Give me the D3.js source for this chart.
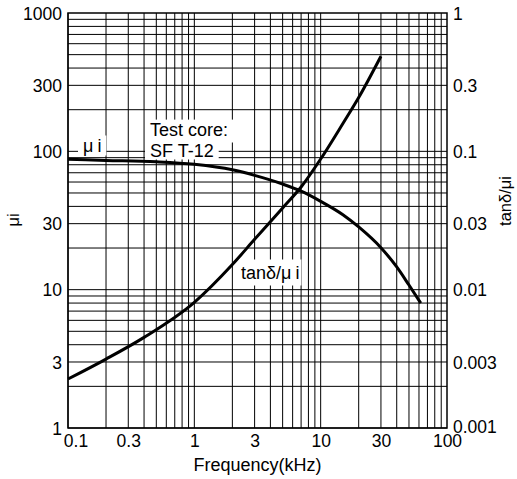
<!DOCTYPE html>
<html><head><meta charset="utf-8">
<script src="https://cdn.jsdelivr.net/npm/d3@7"></script>
<style>body{margin:0;background:#fff}svg{display:block}text{font-family:"Liberation Sans",Arial,Helvetica,sans-serif;fill:#000}</style>
</head><body><svg id="c" width="517" height="479"></svg>
<script>
// ---- data ----
const freqMu = [0.1, 0.2, 0.5, 1, 2, 3, 5, 7, 10, 15, 20, 30, 40, 50, 62];
const muValues = [87.5, 86, 84, 80.5, 73.5, 67, 58, 51.5, 43.5, 34.8, 28.4, 20.1, 14.6, 10.8, 8];
const freqTan = [0.1, 0.2, 0.4, 1, 2, 3, 5, 7, 10, 15, 20, 30];
const tanValues = [0.00226, 0.00315, 0.00452, 0.0081, 0.0152, 0.0231, 0.039, 0.0552, 0.088, 0.159, 0.245, 0.487];
const xTickLabels = ["0.1", "0.3", "1", "3", "10", "30", "100"];
const yLeftTickLabels = ["1", "3", "10", "30", "100", "300", "1000"];
const yRightTickLabels = ["0.001", "0.003", "0.01", "0.03", "0.1", "0.3", "1"];

const L = 68, T = 13, W = 379, H = 415;
const svg = d3.select("#c");
const x = d3.scaleLog().domain([0.1, 100]).range([L, L + W]);
const yL = d3.scaleLog().domain([1, 1000]).range([T + H, T]);
const yR = d3.scaleLog().domain([0.001, 1]).range([T + H, T]);

// grid
const g = svg.append("g");
const xGrid = [], yGrid = [];
for (let d = 0.1; d < 100; d *= 10) for (let k = 1; k <= 9; k++) xGrid.push(+(d * k).toPrecision(3));
for (let d = 1; d < 1000; d *= 10) for (let k = 1; k <= 9; k++) yGrid.push(d * k);
g.selectAll(".vx").data(xGrid).join("line")
  .attr("x1", d => x(d)).attr("x2", d => x(d)).attr("y1", T).attr("y2", T + H)
  .attr("stroke", "#000").attr("stroke-width", 1);
g.selectAll(".hy").data(yGrid).join("line")
  .attr("y1", d => yL(d)).attr("y2", d => yL(d)).attr("x1", L).attr("x2", L + W)
  .attr("stroke", "#000").attr("stroke-width", 1);
svg.append("rect").attr("x", L).attr("y", T).attr("width", W).attr("height", H)
  .attr("fill", "none").attr("stroke", "#000").attr("stroke-width", 1.5);

// axes
const fs = 17.5;
const ff = '"Liberation Sans",Arial,sans-serif';
const xAxis = d3.axisBottom(x).tickValues(xTickLabels.map(Number)).tickSize(0).tickFormat((d, i) => xTickLabels[i]);
const ax = svg.append("g").attr("transform", `translate(0,${T + H})`).call(xAxis);
ax.select(".domain").remove();
ax.selectAll("text").attr("font-size", fs).attr("dy", null).attr("y", 19)
  .attr("font-family", ff).attr("dx", (d, i) => i === 0 ? 7.5 : 0);
const yAxisL = d3.axisLeft(yL).tickValues(yLeftTickLabels.map(Number)).tickSize(0).tickFormat((d, i) => yLeftTickLabels[i]);
const al = svg.append("g").attr("transform", `translate(${L},0)`).call(yAxisL);
al.select(".domain").remove();
al.selectAll("text").attr("font-size", fs).attr("x", -6).attr("dy", "0.36em").attr("font-family", ff);
const yAxisR = d3.axisRight(yR).tickValues(yRightTickLabels.map(Number)).tickSize(0).tickFormat((d, i) => yRightTickLabels[i]);
const ar = svg.append("g").attr("transform", `translate(${L + W},0)`).call(yAxisR);
ar.select(".domain").remove();
ar.selectAll("text").attr("font-size", fs).attr("x", 6)
  .attr("dy", (d, i) => i === 0 ? "0.26em" : "0.36em").attr("font-family", ff);

// axis titles
svg.append("text").attr("x", L + W / 2).attr("y", 471).attr("text-anchor", "middle")
  .attr("font-size", 18).text("Frequency(kHz)");
svg.append("text").attr("transform", `translate(19,220) rotate(-90)`).attr("text-anchor", "middle")
  .attr("font-size", 17).text("μi");
svg.append("text").attr("transform", `translate(511,201) rotate(-90)`).attr("text-anchor", "middle")
  .attr("font-size", 16.5).text("tanδ/μi");

// curves
const lineMu = d3.line().x((d, i) => x(freqMu[i])).y(d => yL(d)).curve(d3.curveMonotoneX);
svg.append("path").attr("d", lineMu(muValues)).attr("fill", "none").attr("stroke", "#000").attr("stroke-width", 3);
const lineTan = d3.line().x((d, i) => x(freqTan[i])).y(d => yR(d)).curve(d3.curveMonotoneX);
svg.append("path").attr("d", lineTan(tanValues)).attr("fill", "none").attr("stroke", "#000").attr("stroke-width", 3);

// labels with white backing
function label(xp, yp, txt, size, pad) {
  const grp = svg.append("g");
  const t = grp.append("text").attr("x", xp).attr("y", yp).attr("font-size", size);
  if (Array.isArray(txt)) txt.forEach(s => t.append("tspan").attr("dx", s[1] || 0).text(s[0]));
  else t.text(txt);
  const b = t.node().getBBox();
  grp.insert("rect", "text").attr("x", b.x - pad[0]).attr("y", b.y - pad[1])
    .attr("width", b.width + pad[0] * 2).attr("height", b.height + pad[1] * 2).attr("fill", "#fff");
}
label(83, 151.5, [["μ"], ["i", 4]], 18, [5, 0]);
label(241, 278.5, [["tanδ/μ"], ["i", 4]], 18, [2, 3]);

// two-line note: backgrounds first, then texts
(function () {
  const bg = svg.append("g"), fg = svg.append("g");
  const t1 = fg.append("text").attr("x", 150).attr("y", 135.6).attr("font-size", 18).text("Test core:");
  const t2 = fg.append("text").attr("x", 150).attr("y", 156.5).attr("font-size", 18).text("SF T-12");
  const b1 = t1.node().getBBox(), b2 = t2.node().getBBox();
  bg.append("rect").attr("x", b1.x - 5).attr("y", b1.y)
    .attr("width", b1.width + 10).attr("height", b2.y + 2 - b1.y).attr("fill", "#fff");
  bg.append("rect").attr("x", b2.x - 5).attr("y", b2.y + 1)
    .attr("width", b2.width + 10).attr("height", b2.height - 2).attr("fill", "#fff");
})();
</script></body></html>
